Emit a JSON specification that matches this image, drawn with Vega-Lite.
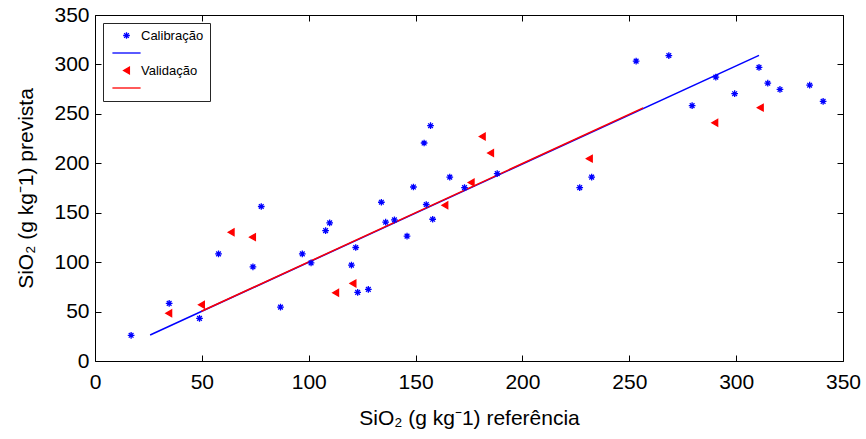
{
  "$schema": "https://vega.github.io/schema/vega-lite/v6.json",
  "width": 748,
  "height": 346,
  "autosize": {"type": "none"},
  "padding": {"left": 95, "top": 15, "right": 23, "bottom": 78},
  "background": "white",
  "config": {
    "view": {"stroke": "black", "strokeWidth": 1},
    "font": "Liberation Sans",
    "axis": {
      "domain": false,
      "grid": false,
      "ticks": true,
      "tickColor": "black",
      "tickWidth": 1,
      "labelFlush": false,
      "labelFont": "Liberation Sans",
      "labelFontSize": 21,
      "labelColor": "black",
      "titleFont": "Liberation Sans",
      "titleFontSize": 21,
      "titleFontWeight": "normal",
      "titleColor": "black"
    }
  },
  "data": {
    "values": [
      {"x": 16.9, "y": 26, "s": "Calibração"},
      {"x": 34.7, "y": 58.3, "s": "Calibração"},
      {"x": 48.9, "y": 43.1, "s": "Calibração"},
      {"x": 57.8, "y": 108.4, "s": "Calibração"},
      {"x": 73.9, "y": 95.3, "s": "Calibração"},
      {"x": 77.8, "y": 156.3, "s": "Calibração"},
      {"x": 86.8, "y": 54.5, "s": "Calibração"},
      {"x": 97, "y": 108.4, "s": "Calibração"},
      {"x": 101.1, "y": 99.3, "s": "Calibração"},
      {"x": 107.9, "y": 131.9, "s": "Calibração"},
      {"x": 109.8, "y": 139.7, "s": "Calibração"},
      {"x": 120, "y": 97, "s": "Calibração"},
      {"x": 122, "y": 114.8, "s": "Calibração"},
      {"x": 122.9, "y": 69.4, "s": "Calibração"},
      {"x": 127.9, "y": 72.4, "s": "Calibração"},
      {"x": 134, "y": 160.6, "s": "Calibração"},
      {"x": 136, "y": 140.4, "s": "Calibração"},
      {"x": 140.1, "y": 142.7, "s": "Calibração"},
      {"x": 146, "y": 126.3, "s": "Calibração"},
      {"x": 149, "y": 176, "s": "Calibração"},
      {"x": 154, "y": 220.5, "s": "Calibração"},
      {"x": 155, "y": 158.3, "s": "Calibração"},
      {"x": 157, "y": 238, "s": "Calibração"},
      {"x": 158, "y": 143.4, "s": "Calibração"},
      {"x": 166, "y": 186, "s": "Calibração"},
      {"x": 172.9, "y": 175.4, "s": "Calibração"},
      {"x": 188.2, "y": 189.5, "s": "Calibração"},
      {"x": 226.8, "y": 175.4, "s": "Calibração"},
      {"x": 232.4, "y": 186, "s": "Calibração"},
      {"x": 253.2, "y": 303.3, "s": "Calibração"},
      {"x": 268.5, "y": 309, "s": "Calibração"},
      {"x": 279.4, "y": 258.3, "s": "Calibração"},
      {"x": 290.5, "y": 287.2, "s": "Calibração"},
      {"x": 299.3, "y": 270.4, "s": "Calibração"},
      {"x": 310.7, "y": 297, "s": "Calibração"},
      {"x": 314.8, "y": 281, "s": "Calibração"},
      {"x": 320.5, "y": 274.7, "s": "Calibração"},
      {"x": 334.4, "y": 279, "s": "Calibração"},
      {"x": 340.7, "y": 262.6, "s": "Calibração"},
      {"x": 34.5, "y": 48.2, "s": "Validação"},
      {"x": 49.8, "y": 56.9, "s": "Validação"},
      {"x": 63.7, "y": 130.3, "s": "Validação"},
      {"x": 73.7, "y": 125.3, "s": "Validação"},
      {"x": 112.6, "y": 69, "s": "Validação"},
      {"x": 120.7, "y": 78.5, "s": "Validação"},
      {"x": 163.7, "y": 157.6, "s": "Validação"},
      {"x": 176, "y": 180.5, "s": "Validação"},
      {"x": 181.2, "y": 227, "s": "Validação"},
      {"x": 185.1, "y": 210.4, "s": "Validação"},
      {"x": 231.3, "y": 204.7, "s": "Validação"},
      {"x": 290, "y": 241, "s": "Validação"},
      {"x": 311.3, "y": 256.3, "s": "Validação"},
      {"x": 25.8, "y": 26.3, "s": "linha_cal"},
      {"x": 310.7, "y": 309.1, "s": "linha_cal"},
      {"x": 49.8, "y": 50.3, "s": "linha_val"},
      {"x": 256.5, "y": 256, "s": "linha_val"}
    ]
  },
  "layer": [
    {
      "transform": [{"filter": "datum.s == 'linha_cal' || datum.s == 'linha_val'"}],
      "mark": {"type": "line", "strokeWidth": 1.5},
      "encoding": {
        "x": {"field": "x", "type": "quantitative", "scale": {"domain": [0, 350], "nice": false, "zero": false},
              "axis": {"orient": "bottom", "values": [0, 50, 100, 150, 200, 250, 300, 350], "tickSize": -6, "labelPadding": 16, "title": "SiO₂ (g kg⁻1) referência", "titlePadding": 15}},
        "y": {"field": "y", "type": "quantitative", "scale": {"domain": [0, 350], "nice": false, "zero": false},
              "axis": {"orient": "left", "values": [0, 50, 100, 150, 200, 250, 300, 350], "tickSize": -6, "labelPadding": 12, "title": "SiO₂ (g kg⁻1) prevista", "titlePadding": 17}},
        "color": {"field": "s", "type": "nominal",
                  "scale": {"domain": ["Calibração", "linha_cal", "Validação", "linha_val"], "range": ["#0000ff", "#0000ff", "#ff0000", "#ff0000"]}}
      }
    },
    {
      "transform": [{"filter": "datum.s == 'Calibração' || datum.s == 'Validação'"}],
      "mark": {"type": "point", "filled": false, "size": 45, "strokeWidth": 1.3, "opacity": 1},
      "encoding": {
        "x": {"field": "x", "type": "quantitative",
              "axis": {"orient": "top", "values": [0, 50, 100, 150, 200, 250, 300, 350], "tickSize": -6, "labels": false, "title": null}},
        "y": {"field": "y", "type": "quantitative",
              "axis": {"orient": "right", "values": [0, 50, 100, 150, 200, 250, 300, 350], "tickSize": -6, "labels": false, "title": null}},
        "color": {"field": "s", "type": "nominal",
                  "legend": {"orient": "top-left", "offset": 8, "title": null, "padding": 6, "symbolSize": 45, "symbolOffset": 11, "labelOffset": 8, "rowPadding": 3.5, "labelFontSize": 13, "labelFont": "Liberation Sans", "labelColor": "black", "strokeColor": "#262626", "fillColor": "white", "symbolStrokeWidth": 1.3, "labelExpr": "datum.label == 'Calibração' || datum.label == 'Validação' ? datum.label : ''"}},
        "fill": {"field": "s", "type": "nominal",
                 "scale": {"domain": ["Calibração", "linha_cal", "Validação", "linha_val"], "range": ["#0000ff", "#0000ff", "#ff0000", "#ff0000"]},
                 "legend": {"orient": "top-left", "offset": 8, "title": null, "padding": 6, "symbolSize": 45, "symbolOffset": 11, "labelOffset": 8, "rowPadding": 3.5, "labelFontSize": 13, "labelFont": "Liberation Sans", "labelColor": "black", "strokeColor": "#262626", "fillColor": "white", "symbolStrokeWidth": 1.3, "labelExpr": "datum.label == 'Calibração' || datum.label == 'Validação' ? datum.label : ''"}},
        "shape": {"field": "s", "type": "nominal",
                  "scale": {"domain": ["Calibração", "linha_cal", "Validação", "linha_val"], "range": ["M0,-1L0,1M-1,0L1,0M-0.7,-0.7L0.7,0.7M-0.7,0.7L0.7,-0.7", "M-4.2,0L4.2,0", "triangle-left", "M-4.2,0L4.2,0"]},
                  "legend": {"orient": "top-left", "offset": 8, "title": null, "padding": 6, "symbolSize": 45, "symbolOffset": 11, "labelOffset": 8, "rowPadding": 3.5, "labelFontSize": 13, "labelFont": "Liberation Sans", "labelColor": "black", "strokeColor": "#262626", "fillColor": "white", "symbolStrokeWidth": 1.3, "labelExpr": "datum.label == 'Calibração' || datum.label == 'Validação' ? datum.label : ''"}}
      }
    }
  ],
  "resolve": {"axis": {"x": "independent", "y": "independent"}}
}
